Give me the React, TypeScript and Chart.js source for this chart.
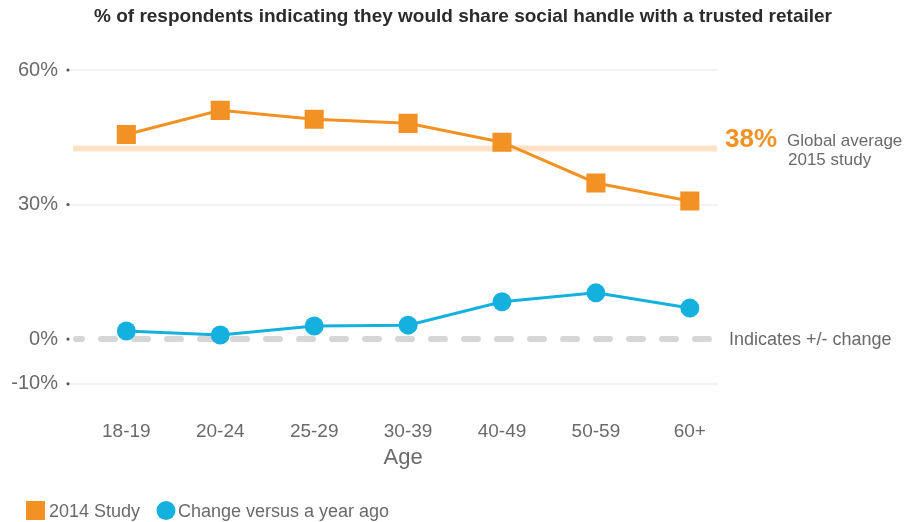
import React, { useEffect, useRef } from "react";
import { Chart, registerables } from "chart.js";

Chart.register(...registerables);

const TITLE = "% of respondents indicating they would share social handle with a trusted retailer";
const CATEGORIES = ["18-19", "20-24", "25-29", "30-39", "40-49", "50-59", "60+"];
const SERIES_NAMES = ["2014 Study", "Change versus a year ago"];
const STUDY_2014 = [45.6, 51.0, 49.0, 48.1, 43.9, 34.8, 30.8];
const CHANGE_YOY = [1.8, 0.9, 2.9, 3.1, 8.3, 10.3, 6.9];
const Y_TICKS = [60, 30, 0, -10];
const AVERAGE_VALUE = 42.5;
const AVERAGE_LABEL = "38%";
const AVERAGE_TEXT = ["Global average", "2015 study"];
const ZERO_TEXT = "Indicates +/- change";
const X_TITLE = "Age";

const ORANGE = "#F39224";
const BLUE = "#15B1DE";
const GRAY_TEXT = "#6a6a6a";
const FONT = '"Liberation Sans", Arial, sans-serif';

const decor = {
  id: "decor",
  beforeDatasetsDraw(chart: any) {
    const { ctx, chartArea, scales } = chart;
    const y = scales.y;
    ctx.save();
    const ay = y.getPixelForValue(AVERAGE_VALUE);
    ctx.fillStyle = "#FDE3C6";
    ctx.fillRect(chartArea.left + 3, ay - 3, chartArea.right - chartArea.left - 4, 6);
    const zy = y.getPixelForValue(0);
    ctx.strokeStyle = "#D6D6D6";
    ctx.lineWidth = 6;
    ctx.lineCap = "round";
    ctx.setLineDash([14, 19]);
    ctx.lineDashOffset = 8;
    ctx.beginPath();
    ctx.moveTo(chartArea.left + 6, zy);
    ctx.lineTo(chartArea.right + 2, zy);
    ctx.stroke();
    ctx.restore();
  },
  afterDraw(chart: any) {
    const { ctx, chartArea, scales } = chart;
    const y = scales.y;
    const x = scales.x;
    ctx.save();
    // title
    ctx.font = `bold 19px ${FONT}`;
    ctx.fillStyle = "#2b2b2b";
    ctx.textAlign = "center";
    ctx.textBaseline = "middle";
    ctx.fillText(TITLE, 463, 17);
    // x axis title
    ctx.font = `22px ${FONT}`;
    ctx.fillStyle = GRAY_TEXT;
    const cx = (x.getPixelForValue(0) + x.getPixelForValue(CATEGORIES.length - 1)) / 2 - 5;
    ctx.fillText(X_TITLE, cx, 458);
    // tick dots
    ctx.fillStyle = "#555";
    Y_TICKS.forEach((v) => {
      ctx.beginPath();
      ctx.arc(chartArea.left - 2, y.getPixelForValue(v), 1.6, 0, Math.PI * 2);
      ctx.fill();
    });
    // average label
    const ay = y.getPixelForValue(AVERAGE_VALUE);
    ctx.textAlign = "left";
    ctx.textBaseline = "alphabetic";
    ctx.font = `bold 26px ${FONT}`;
    ctx.fillStyle = ORANGE;
    ctx.fillText(AVERAGE_LABEL, chartArea.right + 7, ay - 1);
    ctx.font = `17px ${FONT}`;
    ctx.fillStyle = GRAY_TEXT;
    ctx.fillText(AVERAGE_TEXT[0], chartArea.right + 69, ay - 2);
    ctx.fillText(AVERAGE_TEXT[1], chartArea.right + 70, ay + 17);
    // zero label
    const zy = y.getPixelForValue(0);
    ctx.font = `18px ${FONT}`;
    ctx.fillText(ZERO_TEXT, chartArea.right + 11, zy + 6);
    // legend
    const ly = 510.5;
    ctx.fillStyle = ORANGE;
    ctx.fillRect(26, ly - 9.5, 19, 19);
    ctx.fillStyle = GRAY_TEXT;
    ctx.font = `18px ${FONT}`;
    ctx.fillText(SERIES_NAMES[0], 49, ly + 6.5);
    ctx.fillStyle = BLUE;
    ctx.beginPath();
    ctx.arc(166, ly, 9.5, 0, Math.PI * 2);
    ctx.fill();
    ctx.fillStyle = GRAY_TEXT;
    ctx.fillText(SERIES_NAMES[1], 178, ly + 6.5);
    ctx.restore();
  },
};

export default function App() {
  const ref = useRef<HTMLCanvasElement | null>(null);
  useEffect(() => {
    if (!ref.current) return;
    const chart = new Chart(ref.current, {
      type: "line",
      data: {
        datasets: [
          {
            label: SERIES_NAMES[0],
            data: STUDY_2014.map((v, i) => ({ x: i, y: v })),
            borderColor: ORANGE,
            backgroundColor: ORANGE,
            borderWidth: 3,
            pointStyle: "rect",
            pointRadius: 13.5,
            pointBorderWidth: 0,
            tension: 0,
          },
          {
            label: SERIES_NAMES[1],
            data: CHANGE_YOY.map((v, i) => ({ x: i, y: v })),
            borderColor: BLUE,
            backgroundColor: BLUE,
            borderWidth: 3,
            pointStyle: "circle",
            pointRadius: 9.5,
            pointBorderWidth: 0,
            tension: 0,
          },
        ],
      },
      options: {
        animation: false,
        responsive: false,
        devicePixelRatio: 1,
        layout: { padding: { top: 70, left: 0, right: 192, bottom: 49.4 } },
        plugins: { legend: { display: false }, title: { display: false }, tooltip: { enabled: false } },
        scales: {
          x: {
            type: "linear",
            min: -0.6,
            max: 6.3,
            afterBuildTicks: (s: any) => {
              s.ticks = CATEGORIES.map((_, i) => ({ value: i }));
            },
            afterFit: (s: any) => {
              s.height = 82;
            },
            ticks: {
              callback: (v: any) => CATEGORIES[v as number],
              font: { family: FONT, size: 19 },
              color: GRAY_TEXT,
              padding: 22,
              maxRotation: 0,
              autoSkip: false,
            },
            grid: { display: false },
            border: { display: false },
            title: { display: false },
          },
          y: {
            type: "linear",
            min: -11.5,
            max: 60,
            afterBuildTicks: (s: any) => {
              s.ticks = Y_TICKS.map((v) => ({ value: v }));
            },
            afterFit: (s: any) => {
              s.width = 70;
            },
            ticks: {
              callback: (v: any) => `${v}%`,
              font: { family: FONT, size: 20 },
              color: GRAY_TEXT,
              padding: 12,
            },
            grid: {
              color: (c: any) => (c.tick && c.tick.value === 0 ? "rgba(0,0,0,0)" : "#f3f3f3"),
              lineWidth: 2,
              drawTicks: false,
            },
            border: { display: false },
          },
        },
      },
      plugins: [decor],
    });
    return () => chart.destroy();
  }, []);
  return (
    <div style={{ position: "absolute", left: 0, top: 0, width: 910, height: 522, background: "#fff" }}>
      <canvas ref={ref} width={910} height={522} style={{ width: 910, height: 522, display: "block" }} />
    </div>
  );
}
